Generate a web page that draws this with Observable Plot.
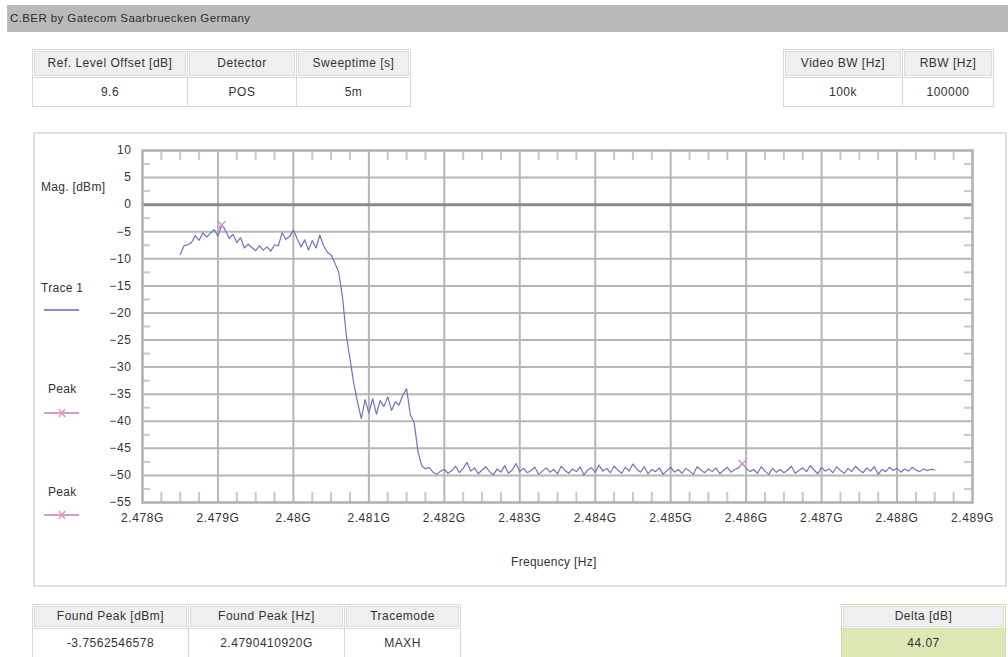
<!DOCTYPE html>
<html>
<head>
<meta charset="utf-8">
<script src="https://cdn.jsdelivr.net/npm/d3@7"></script>
<script src="https://cdn.jsdelivr.net/npm/@observablehq/plot@0.6"></script>
<style>
  body { margin:0; background:#fff; font-family:"Liberation Sans", Arial, sans-serif; color:#333; width:1008px; height:657px; overflow:hidden; position:relative; }
  .abs { position:absolute; }
  .tbl { position:absolute; display:flex; border:1px solid #d8d8d8; background:#fff; }
  .col { display:flex; flex-direction:column; border-right:1px solid #d8d8d8; }
  .col:last-child { border-right:none; }
  .hd { background:#efefef; border:1px solid #dcdcdc; margin:1px; font-size:12px; letter-spacing:0.5px; text-align:center; color:#333; white-space:nowrap; }
  .vl { font-size:12px; letter-spacing:0.5px; text-align:center; color:#333; border-top:1px solid #dcdcdc; }
  .lg { position:absolute; font-size:12px; letter-spacing:0.3px; color:#333; }
</style>
</head>
<body>
<div id="root"></div>
<script>
// ---------- data ----------
const title = "C.BER by Gatecom Saarbruecken Germany";
const topLeftHeaders = ["Ref. Level Offset [dB]", "Detector", "Sweeptime [s]"];
const topLeftValues = ["9.6", "POS", "5m"];
const topRightHeaders = ["Video BW [Hz]", "RBW [Hz]"];
const topRightValues = ["100k", "100000"];
const bottomHeaders = ["Found Peak [dBm]", "Found Peak [Hz]", "Tracemode"];
const bottomValues = ["-3.7562546578", "2.4790410920G", "MAXH"];
const deltaHeader = ["Delta [dB]"];
const deltaValue = ["44.07"];

const yLabel = "Mag. [dBm]";
const xLabel = "Frequency [Hz]";
const seriesNames = ["Trace 1", "Peak", "Peak"];

const xTicks = [2.478, 2.479, 2.480, 2.481, 2.482, 2.483, 2.484, 2.485, 2.486, 2.487, 2.488, 2.489];
const xTickLabels = ["2.478G", "2.479G", "2.48G", "2.481G", "2.482G", "2.483G", "2.484G", "2.485G", "2.486G", "2.487G", "2.488G", "2.489G"];
const yTicks = [10, 5, 0, -5, -10, -15, -20, -25, -30, -35, -40, -45, -50, -55];

// sweep points (GHz): start and spacing of the trace samples
const sweepStart = 2.4785;
const sweepStep = 0.00005;
// Trace 1 magnitudes (dBm)
const trace1 = [
  -9.2, -7.6, -7.4, -7.0, -5.7, -6.6, -5.2, -6.0, -5.3, -4.6,
  -5.8, -3.76, -4.8, -6.2, -5.5, -7.0, -6.1, -8.0, -7.3, -7.9,
  -8.5, -7.6, -8.4, -7.8, -8.6, -7.4, -7.6, -5.2, -6.4, -5.9,
  -4.7, -6.3, -7.8, -6.5, -8.4, -6.6, -8.0, -5.6, -7.6, -8.8,
  -9.3, -10.8, -12.5, -17.0, -24.0, -28.5, -33.0, -36.5, -39.5, -36.0,
  -38.5, -35.8, -38.7, -36.2, -37.3, -35.5, -38.0, -36.4, -37.0, -35.2,
  -34.0, -38.8, -40.2, -45.5, -48.2, -48.8, -48.5, -49.4, -49.8, -49.2,
  -48.9, -49.6, -49.1, -48.3, -49.5, -48.7, -47.6, -49.2, -48.6, -49.7,
  -49.0, -48.4, -49.3, -49.9, -48.8, -49.4, -48.2, -49.6, -49.0, -47.8,
  -49.3, -48.7, -49.5, -49.1, -48.5, -49.8, -49.2, -48.6, -49.4, -48.9,
  -49.7, -48.3, -49.1, -49.6, -48.8, -49.3, -48.4, -49.9, -49.0, -48.6,
  -49.4, -48.1, -49.2, -48.7, -49.5, -48.3, -49.0, -49.6, -48.5, -49.2,
  -47.9, -48.8, -49.4, -48.4, -49.7, -48.9, -49.3, -48.6, -49.8, -49.1,
  -48.5, -49.4, -48.9, -49.6, -48.7, -49.2, -49.8, -48.4, -49.0, -49.5,
  -48.8, -49.3, -48.6, -49.7, -49.1, -48.5, -49.4, -48.9, -48.6, -47.83,
  -48.7, -49.3, -48.9, -49.6, -48.4, -49.2, -49.8, -48.7, -49.4, -48.9,
  -49.5, -49.0, -48.3, -49.6, -49.1, -48.6, -49.3, -48.2, -49.0, -49.7,
  -48.5, -49.2, -48.8, -49.5, -48.4, -49.1, -49.6, -48.7, -49.3, -48.3,
  -49.0, -49.5, -48.6, -49.2, -48.4, -49.8, -48.9, -49.3, -48.5, -49.1,
  -48.7, -49.4, -48.8, -49.2, -48.5, -49.0, -49.3, -48.8, -49.1, -48.9,
  -49.0
];
const peakFreqs = [2.47905, 2.48595];
const peakValues = [-3.76, -47.83];

// ---------- page layout ----------
const root = document.getElementById("root");
function el(tag, cls, style, text) {
  const e = document.createElement(tag);
  if (cls) e.className = cls;
  if (style) e.setAttribute("style", style);
  if (text != null) e.textContent = text;
  return e;
}
// title bar
const bar = el("div", "abs", "left:7px;top:5px;width:1001px;height:27px;background:#bababa;");
bar.appendChild(el("div", "abs", "left:3px;top:7px;font-size:11.5px;color:#2b2b2b;letter-spacing:0.4px;white-space:nowrap;", title));
root.appendChild(bar);

function table(left, top, widths, headers, values, opt = {}) {
  const t = el("div", "tbl", `left:${left}px;top:${top}px;` + (opt.border ? `border-color:${opt.border};` : ""));
  widths.forEach((w, i) => {
    const c = el("div", "col", `width:${w}px;` + (opt.border ? `border-color:${opt.border};` : ""));
    c.appendChild(el("div", "hd", `height:${opt.hh || 23}px;line-height:${opt.hh || 23}px;`, headers[i]));
    c.appendChild(el("div", "vl", `height:${opt.vh || 28}px;line-height:${opt.vh || 28}px;` + (opt.vbg ? `background:${opt.vbg};border-top-color:${opt.border};` : ""), values[i]));
    t.appendChild(c);
  });
  root.appendChild(t);
}
table(32, 49, [154, 108, 113], topLeftHeaders, topLeftValues);
table(783, 49, [118, 90], topRightHeaders, topRightValues);
table(32, 604, [155, 155, 115], bottomHeaders, bottomValues, {hh: 19, vh: 28});
table(841, 604, [163], deltaHeader, deltaValue, {hh: 19, vh: 28, border: "#cfe0a6", vbg: "#dce8b4"});

// chart panel
root.appendChild(el("div", "abs", "left:33px;top:132px;width:970px;height:451px;border:2px solid #e0e0e0;"));

// legend texts
root.appendChild(el("div", "lg", "left:41px;top:180px;white-space:nowrap;", yLabel));
root.appendChild(el("div", "lg", "left:41px;top:281px;white-space:nowrap;", seriesNames[0]));
root.appendChild(el("div", "lg", "left:48px;top:382px;white-space:nowrap;", seriesNames[1]));
root.appendChild(el("div", "lg", "left:48px;top:485px;white-space:nowrap;", seriesNames[2]));
root.appendChild(el("div", "lg", "left:511px;top:555px;white-space:nowrap;", xLabel));

const ns = "http://www.w3.org/2000/svg";
function legendSwatch(top, color, marker) {
  const s = document.createElementNS(ns, "svg");
  s.setAttribute("width", 40); s.setAttribute("height", 12);
  s.setAttribute("style", `position:absolute;left:42px;top:${top - 6}px;`);
  s.innerHTML = `<line x1="2" x2="37" y1="6" y2="6" stroke="${color}" stroke-width="2"/>` +
    (marker ? `<path d="M17,2 L23,10 M23,2 L17,10" stroke="${color}" stroke-width="1.5"/>` : "");
  root.appendChild(s);
}
legendSwatch(310, "#8890cc", false);
legendSwatch(413, "#d79ad2", true);
legendSwatch(515, "#d79ad2", true);

// ---------- chart ----------
const traceData = trace1.map((v, i) => ({f: sweepStart + i * sweepStep, v}));
const peaks = peakFreqs.map((f, i) => ({f, v: peakValues[i]}));
const gridY = yTicks.filter(d => d !== 10 && d !== -55 && d !== 0);
const gridX = xTicks.slice(1, -1);
const minorY = yTicks.slice(0, -1).map(d => d - 2.5);
const minorX = [];
xTicks.slice(0, -1).forEach(t => [0.00025, 0.0005, 0.00075].forEach(o => minorX.push(t + o)));

const W = 1008, H = 440, mL = 142, mR = 36, mT = 19, mB = 69;
const pw = W - mL - mR, ph = H - mT - mB;

const chart = Plot.plot({
  width: W, height: H,
  marginLeft: mL, marginRight: mR, marginTop: mT, marginBottom: mB,
  style: {fontSize: "12px", letterSpacing: "0.6px", fontFamily: "Liberation Sans, Arial, sans-serif", color: "#333", background: "transparent", overflow: "visible"},
  x: {domain: [2.478, 2.489]},
  y: {domain: [-55, 10]},
  marks: [
    Plot.ruleY(gridY, {stroke: "#b6b6b6", strokeWidth: 2}),
    Plot.ruleX(gridX, {stroke: "#b6b6b6", strokeWidth: 2}),
    Plot.tickY(minorY, {y: d => d, stroke: "#c8c8c8", strokeWidth: 2, insetRight: pw - 8}),
    Plot.tickY(minorY, {y: d => d, stroke: "#c8c8c8", strokeWidth: 2, insetLeft: pw - 8}),
    Plot.tickX(minorX, {x: d => d, stroke: "#c8c8c8", strokeWidth: 2, insetBottom: ph - 10}),
    Plot.tickX(minorX, {x: d => d, stroke: "#c8c8c8", strokeWidth: 2, insetTop: ph - 10}),
    Plot.ruleY([0], {stroke: "#8a8a8a", strokeWidth: 3}),
    Plot.frame({stroke: "#b0b0b0", strokeWidth: 2.5}),
    Plot.line(traceData, {x: "f", y: "v", stroke: "#6c73c3", strokeWidth: 1.2}),
    Plot.dot(peaks, {x: "f", y: "v", symbol: "times", r: 3.5, stroke: "#d98fd2", strokeWidth: 1.5}),
    Plot.axisX(xTicks, {tickSize: 0, tickPadding: 11, tickFormat: d => xTickLabels[xTicks.findIndex(t => Math.abs(t - d) < 1e-9)], label: null, fill: "#333"}),
    Plot.axisY(yTicks, {tickSize: 0, tickPadding: 11, label: null, fill: "#333"})
  ]
});
chart.setAttribute("style", (chart.getAttribute("style") || "") + ";position:absolute;left:0;top:131px;");
root.appendChild(chart);
</script>
</body>
</html>
